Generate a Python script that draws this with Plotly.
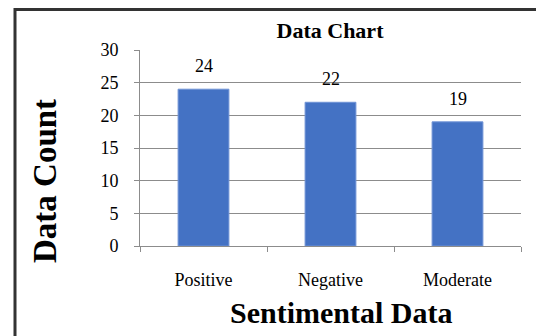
import plotly.graph_objects as go

categories = ["Positive", "Negative", "Moderate"]
counts = [24, 22, 19]
y_ticks = [0, 5, 10, 15, 20, 25, 30]

FONT = "Liberation Serif, Times New Roman, serif"
BAR_COLOR = "#4472C4"
GRID = "#8c8c8c"

fig = go.Figure()
fig.add_trace(go.Bar(
    x=categories, y=counts, width=0.4,
    marker=dict(color=BAR_COLOR, line=dict(color="#6f93d6", width=1)),
    showlegend=False,
))

for c, v in zip(categories, counts):
    fig.add_annotation(x=c, y=v, text=str(v), showarrow=False,
                       yanchor="bottom", yshift=11,
                       font=dict(family=FONT, size=18, color="black"))

ml, mr, mt, mb = 140, 15, 50, 90
W, H = 536, 336
pw, ph = W - ml - mr, H - mt - mb

def px(x):
    return (x - ml) / pw

def py(y):
    return (H - mb - y) / ph

# axis titles placed as annotations
fig.add_annotation(xref="paper", yref="paper", x=px(341), y=py(312),
                   text="<b>Sentimental Data</b>", showarrow=False,
                   xanchor="center", yanchor="middle",
                   font=dict(family=FONT, size=30, color="black"))
fig.add_annotation(xref="paper", yref="paper", x=px(45), y=py(181),
                   text="<b>Data Count</b>", showarrow=False, textangle=-90,
                   xanchor="center", yanchor="middle",
                   font=dict(family=FONT, size=33, color="black"))

fig.update_layout(
    width=W, height=H,
    margin=dict(l=ml, r=mr, t=mt, b=mb, pad=0),
    paper_bgcolor="white", plot_bgcolor="white",
    font=dict(family=FONT, size=18, color="black"),
    title=dict(text="<b>Data Chart</b>", xref="paper", x=px(330), xanchor="center",
               y=1 - 30 / H, yanchor="middle",
               font=dict(family=FONT, size=22, color="black")),
    bargap=0.6,
    xaxis=dict(
        type="category", showgrid=False, showline=True, linecolor=GRID, linewidth=1,
        ticks="outside", ticklen=5, tickcolor=GRID, tickson="boundaries",
        tickfont=dict(family=FONT, size=18, color="black"),
        ticklabelstandoff=17,
    ),
    yaxis=dict(
        range=[0, 30], tickvals=y_ticks, showgrid=True, gridcolor=GRID, gridwidth=1,
        showline=True, linecolor=GRID, linewidth=1, zeroline=False,
        ticks="outside", ticklen=5, tickcolor=GRID,
        tickfont=dict(family=FONT, size=18, color="black"),
        ticklabelstandoff=12,
    ),
)

# outer frame (top and left edges visible)
fig.add_shape(type="line", xref="paper", yref="paper",
              x0=px(14), x1=px(540), y0=py(9.5), y1=py(9.5),
              line=dict(color="#333333", width=3))
fig.add_shape(type="line", xref="paper", yref="paper",
              x0=px(15), x1=px(15), y0=py(8), y1=py(340),
              line=dict(color="#333333", width=3))

fig.write_html("out.html", config={"displayModeBar": False},
               post_script="document.body.style.margin='0';document.body.style.padding='0';")
